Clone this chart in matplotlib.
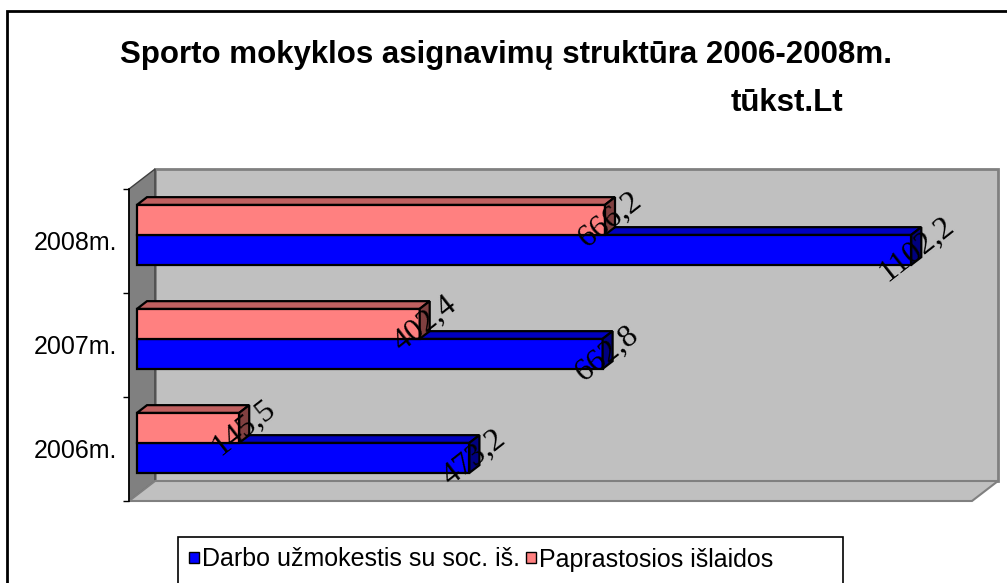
import matplotlib.pyplot as plt
from matplotlib.patches import Polygon, Rectangle

# data
years = ['2006m.', '2007m.', '2008m.']
darbo = [473.2, 662.8, 1102.2]        # Darbo užmokestis su soc. iš.
paprastosios = [145.5, 402.4, 666.2]  # Paprastosios išlaidos
series_names = ['Darbo užmokestis su soc. iš.', 'Paprastosios išlaidos']
series_colors = ['#0000FF', '#FF8080']

VMAX = 1200
NCAT = len(years)

W, H = 1007, 583
fig = plt.figure(figsize=(W / 100, H / 100), dpi=100)
ax = fig.add_axes([129 / W, (H - 501) / H, 843 / W, 312 / H])
ax.set_xlim(0, VMAX)
ax.set_ylim(0, NCAT)

# 3d look: depth vector (26px right, 20px up) in data units
px_per_val = 843 / VMAX
px_per_cat = 312 / NCAT
DX = 26 / px_per_val
DY = 20 / px_per_cat
d0, d1 = 8 / 26, 18 / 26      # bars sit in the middle of the depth
bar_h = 30 / px_per_cat

# walls and floor
back = Rectangle((DX, DY), VMAX, NCAT, facecolor='#C0C0C0', edgecolor='#808080',
                 lw=2, clip_on=False, zorder=1)
ax.add_patch(back)
side = Polygon([(0, 0), (DX, DY), (DX, NCAT + DY), (0, NCAT)], closed=True,
               facecolor='#808080', edgecolor='#404040', lw=1, clip_on=False, zorder=1)
ax.add_patch(side)
floor = Polygon([(0, 0), (VMAX, 0), (VMAX + DX, DY), (DX, DY)], closed=True,
                facecolor='#C0C0C0', edgecolor='#808080', lw=1.5, clip_on=False, zorder=1.5)
ax.add_patch(floor)
ax.plot([0, 0], [0, NCAT], color='black', lw=1.2, clip_on=False, zorder=2)


def bar3d(v, y0, y1, front, top, right):
    ox, oy = d0 * DX, d0 * DY
    bx, by = (d1 - d0) * DX, (d1 - d0) * DY
    faces = [
        ([(ox, y0 + oy), (ox + v, y0 + oy), (ox + v, y1 + oy), (ox, y1 + oy)], front),
        ([(ox, y1 + oy), (ox + v, y1 + oy), (ox + v + bx, y1 + oy + by), (ox + bx, y1 + oy + by)], top),
        ([(ox + v, y0 + oy), (ox + v + bx, y0 + oy + by), (ox + v + bx, y1 + oy + by), (ox + v, y1 + oy)], right),
    ]
    for pts, col in faces:
        ax.add_patch(Polygon(pts, closed=True, facecolor=col, edgecolor='black',
                             lw=1.6, joinstyle='miter', clip_on=False, zorder=3))
    # data label
    txt = ('%.1f' % v).replace('.', ',')
    ax.text(ox + v + bx / 2, (y0 + y1) / 2 + oy, txt, rotation=38, ha='center', va='center',
            fontsize=23, family='Liberation Serif', color='black', zorder=5,
            rotation_mode='anchor')


for i in range(NCAT):
    c = i + 0.5
    bar3d(darbo[i], c - bar_h, c, series_colors[0], '#0000C0', '#000080')
    bar3d(paprastosios[i], c, c + bar_h, series_colors[1], '#C06060', '#804040')

# axes styling
for s in ax.spines.values():
    s.set_visible(False)
ax.set_xticks([])
ax.set_yticks([i + 0.5 for i in range(NCAT)])
ax.set_yticklabels(years, fontsize=18, family='Liberation Sans')
ax.set_yticks(range(NCAT + 1), minor=True)
ax.tick_params(axis='y', which='major', length=0, pad=8.6)
ax.tick_params(axis='y', which='minor', length=4.3, width=1, color='black')
ax.set_facecolor('none')

# title
fig.text(506 / W, 1 - 63 / H, 'Sporto mokyklos asignavimų struktūra 2006-2008m.',
         ha='center', va='baseline', fontsize=22.5, fontweight='bold', family='Liberation Sans')
fig.text(787 / W, 1 - 111 / H, 'tūkst.Lt', ha='center', va='baseline',
         fontsize=22.5, fontweight='bold', family='Liberation Sans')

# legend box (bottom runs off the picture like in the original)
fig.add_artist(Rectangle((178 / W, -0.1), (843 - 178) / W, 0.1 + 1 - 537.5 / H,
                         transform=fig.transFigure, fill=False, edgecolor='black', lw=1.2))
leg_x = [189, 526]
for name, col, x in zip(series_names, series_colors, leg_x):
    fig.add_artist(Rectangle((x / W, 1 - 563 / H), 10 / W, 11 / H, transform=fig.transFigure,
                             facecolor=col, edgecolor='black', lw=1))
    fig.text((x + 13) / W, 1 - 559.5 / H, name, ha='left', va='center', fontsize=18,
             family='Liberation Sans')

# outer chart border
fig.add_artist(Rectangle((7 / W, -0.2), 1.5, 1.2 - 11 / H, transform=fig.transFigure,
                         fill=False, edgecolor='black', lw=2))

fig.savefig('out.png', dpi=100)
